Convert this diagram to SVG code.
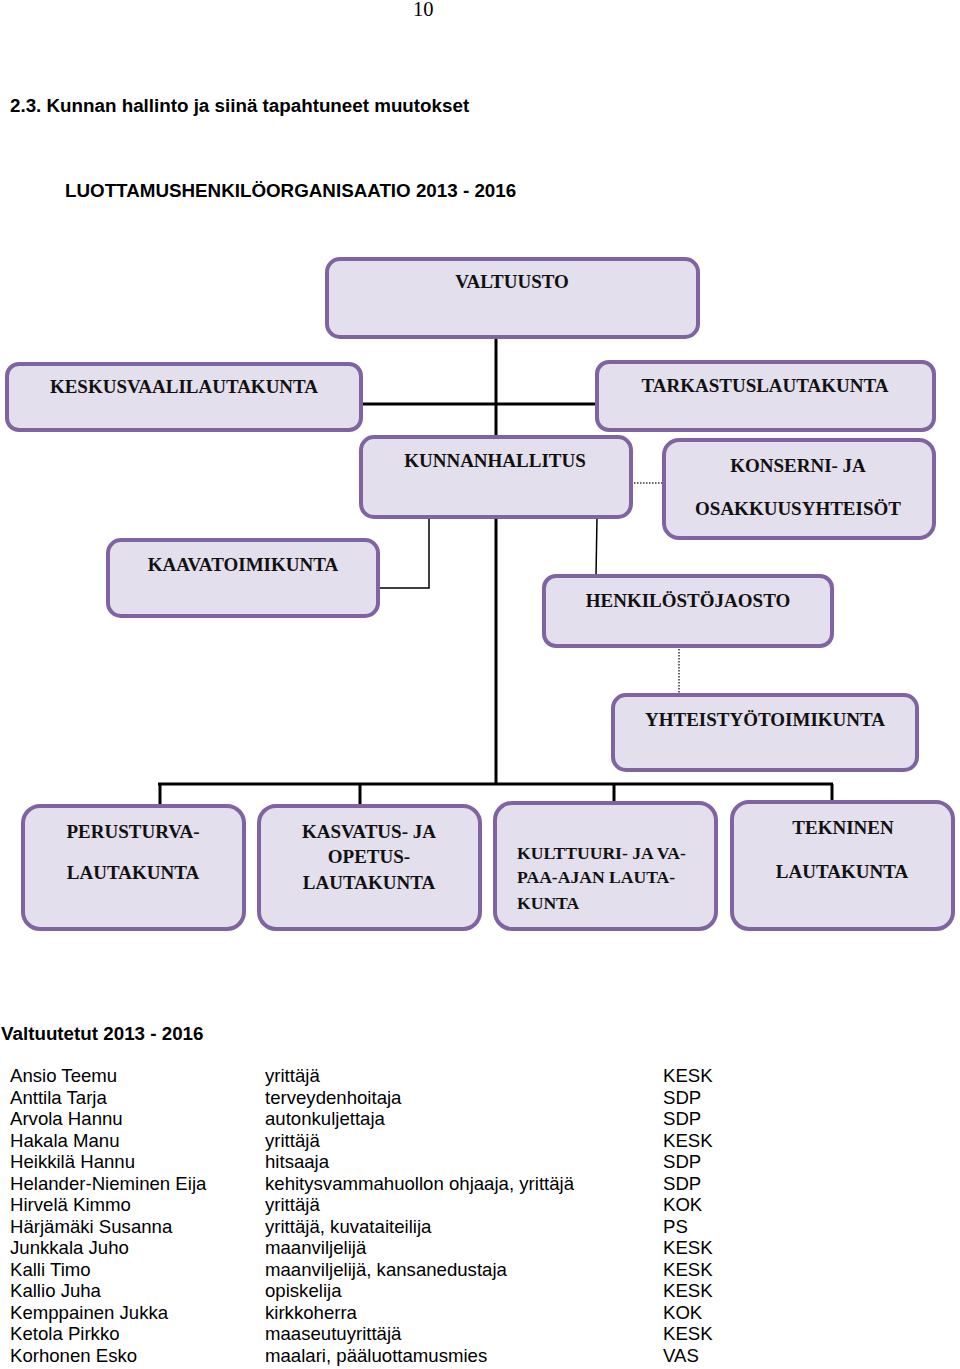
<svg xmlns="http://www.w3.org/2000/svg" width="960" height="1369" viewBox="0 0 960 1369">
<style>
.box{fill:#e4dfec;stroke:#8064a2;stroke-width:4}
.bt{font-family:"Liberation Serif","Times New Roman",serif;font-weight:bold;font-size:19px;fill:#111;text-anchor:middle}
.btl{font-family:"Liberation Serif","Times New Roman",serif;font-weight:bold;font-size:17.6px;fill:#111}
.thick{stroke:#000;stroke-width:3;fill:none}
.thin{stroke:#000;stroke-width:1.5;fill:none}
.dot{stroke:#333;stroke-width:1.5;stroke-dasharray:1.5 1.5;fill:none}
.h{font-family:"Liberation Sans",Arial,sans-serif;font-weight:bold;font-size:18.8px;fill:#000}
.r{font-family:"Liberation Sans",Arial,sans-serif;font-size:18.6px;fill:#000}
</style>
<rect width="960" height="1369" fill="#fff"/>
<text x="413" y="16" font-family="Liberation Serif,serif" font-size="20.5">10</text>
<text class="h" x="10" y="112">2.3. Kunnan hallinto ja siinä tapahtuneet muutokset</text>
<text class="h" x="65" y="197">LUOTTAMUSHENKILÖORGANISAATIO 2013 - 2016</text>
<g id="connectors">
<line class="thick" x1="496" y1="337" x2="496" y2="784"/>
<line class="thick" x1="361" y1="404" x2="597" y2="404"/>
<line class="dot" x1="631" y1="483" x2="664" y2="483"/>
<polyline class="thin" points="429,517 429,588 378,588"/>
<line class="thin" x1="597" y1="517" x2="596" y2="576"/>
<line class="dot" x1="679" y1="646" x2="679" y2="696"/>
<line class="thick" x1="158" y1="784" x2="833" y2="784"/>
<line class="thick" x1="160" y1="784" x2="160" y2="806"/>
<line class="thick" x1="360" y1="784" x2="360" y2="806"/>
<line class="thick" x1="614" y1="784" x2="614" y2="804"/>
<line class="thick" x1="832" y1="784" x2="832" y2="804"/>
</g>
<g id="valtuusto"><rect class="box" x="327" y="259" width="371" height="78" rx="13"/><text class="bt" x="512" y="288">VALTUUSTO</text></g>
<g id="keskusvaalilautakunta"><rect class="box" x="7" y="364" width="354" height="66" rx="12"/><text class="bt" x="184" y="393">KESKUSVAALILAUTAKUNTA</text></g>
<g id="tarkastuslautakunta"><rect class="box" x="597" y="362" width="337" height="68" rx="12"/><text class="bt" x="765" y="392">TARKASTUSLAUTAKUNTA</text></g>
<g id="kunnanhallitus"><rect class="box" x="361" y="437" width="270" height="80" rx="13"/><text class="bt" x="495" y="467">KUNNANHALLITUS</text></g>
<g id="konserni"><rect class="box" x="664" y="440" width="270" height="98" rx="15"/><text class="bt" x="798" y="472">KONSERNI- JA</text><text class="bt" x="798" y="515">OSAKKUUSYHTEISÖT</text></g>
<g id="kaavatoimikunta"><rect class="box" x="108" y="540" width="270" height="76" rx="13"/><text class="bt" x="243" y="571">KAAVATOIMIKUNTA</text></g>
<g id="henkilostojaosto"><rect class="box" x="544" y="576" width="288" height="70" rx="12"/><text class="bt" x="688" y="607">HENKILÖSTÖJAOSTO</text></g>
<g id="yhteistyotoimikunta"><rect class="box" x="613" y="695" width="304" height="75" rx="13"/><text class="bt" x="765" y="726">YHTEISTYÖTOIMIKUNTA</text></g>
<g id="perusturva"><rect class="box" x="23" y="806" width="221" height="123" rx="17"/><text class="bt" x="133" y="838">PERUSTURVA-</text><text class="bt" x="133" y="879">LAUTAKUNTA</text></g>
<g id="kasvatus"><rect class="box" x="259" y="806" width="221" height="123" rx="17"/><text class="bt" x="369" y="838">KASVATUS- JA</text><text class="bt" x="369" y="863">OPETUS-</text><text class="bt" x="369" y="889">LAUTAKUNTA</text></g>
<g id="kulttuuri"><rect class="box" x="495" y="803" width="221" height="126" rx="17"/><text class="btl" x="517" y="859">KULTTUURI- JA VA-</text><text class="btl" x="517" y="883">PAA-AJAN LAUTA-</text><text class="btl" x="517" y="909">KUNTA</text></g>
<g id="tekninen"><rect class="box" x="732" y="802" width="221" height="127" rx="17"/><text class="bt" x="843" y="834">TEKNINEN</text><text class="bt" x="842" y="878">LAUTAKUNTA</text></g>
<text class="h" x="1" y="1040">Valtuutetut 2013 - 2016</text>
<g id="list">
<text class="r" x="10" y="1082">Ansio Teemu</text><text class="r" x="265" y="1082">yrittäjä</text><text class="r" x="663" y="1082">KESK</text>
<text class="r" x="10" y="1103.5">Anttila Tarja</text><text class="r" x="265" y="1103.5">terveydenhoitaja</text><text class="r" x="663" y="1103.5">SDP</text>
<text class="r" x="10" y="1125">Arvola Hannu</text><text class="r" x="265" y="1125">autonkuljettaja</text><text class="r" x="663" y="1125">SDP</text>
<text class="r" x="10" y="1146.5">Hakala Manu</text><text class="r" x="265" y="1146.5">yrittäjä</text><text class="r" x="663" y="1146.5">KESK</text>
<text class="r" x="10" y="1168">Heikkilä Hannu</text><text class="r" x="265" y="1168">hitsaaja</text><text class="r" x="663" y="1168">SDP</text>
<text class="r" x="10" y="1189.5">Helander-Nieminen Eija</text><text class="r" x="265" y="1189.5">kehitysvammahuollon ohjaaja, yrittäjä</text><text class="r" x="663" y="1189.5">SDP</text>
<text class="r" x="10" y="1211">Hirvelä Kimmo</text><text class="r" x="265" y="1211">yrittäjä</text><text class="r" x="663" y="1211">KOK</text>
<text class="r" x="10" y="1232.5">Härjämäki Susanna</text><text class="r" x="265" y="1232.5">yrittäjä, kuvataiteilija</text><text class="r" x="663" y="1232.5">PS</text>
<text class="r" x="10" y="1254">Junkkala Juho</text><text class="r" x="265" y="1254">maanviljelijä</text><text class="r" x="663" y="1254">KESK</text>
<text class="r" x="10" y="1275.5">Kalli Timo</text><text class="r" x="265" y="1275.5">maanviljelijä, kansanedustaja</text><text class="r" x="663" y="1275.5">KESK</text>
<text class="r" x="10" y="1297">Kallio Juha</text><text class="r" x="265" y="1297">opiskelija</text><text class="r" x="663" y="1297">KESK</text>
<text class="r" x="10" y="1318.5">Kemppainen Jukka</text><text class="r" x="265" y="1318.5">kirkkoherra</text><text class="r" x="663" y="1318.5">KOK</text>
<text class="r" x="10" y="1340">Ketola Pirkko</text><text class="r" x="265" y="1340">maaseutuyrittäjä</text><text class="r" x="663" y="1340">KESK</text>
<text class="r" x="10" y="1361.5">Korhonen Esko</text><text class="r" x="265" y="1361.5">maalari, pääluottamusmies</text><text class="r" x="663" y="1361.5">VAS</text>
</g>
</svg>
